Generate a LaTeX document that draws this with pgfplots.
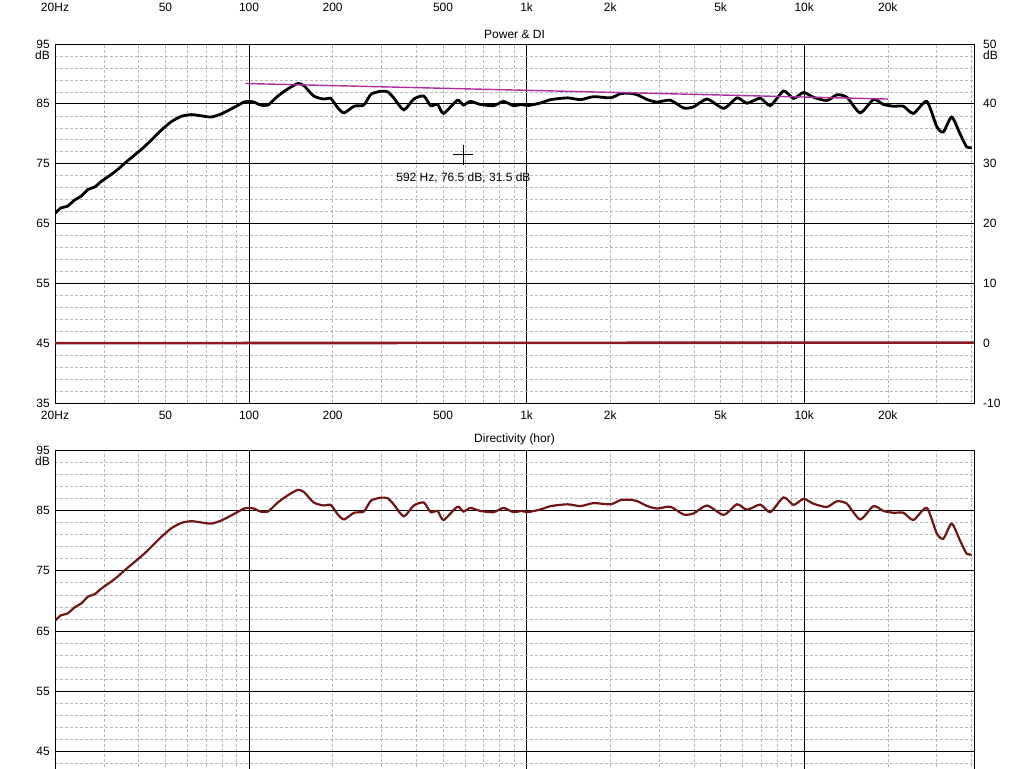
\documentclass[border=0pt]{standalone}
\usepackage{fontspec}
\setmainfont{Liberation Sans}
\usepackage{pgfplots}
\usepackage{pgfplotstable}
\pgfplotsset{compat=1.18}
\definecolor{curvered}{RGB}{112,22,22}
\definecolor{didark}{RGB}{140,25,35}
\definecolor{trendmag}{RGB}{175,45,160}

\pgfplotstableread{
f db
20 66.7
21.0 67.6
22.2 67.9
23.5 68.9
24.9 69.6
26.3 70.7
27.8 71.1
29.3 72.0
31.9 73.2
33.8 74.1
35.5 75.0
38.6 76.4
41.9 77.8
45.0 79.2
48.3 80.6
52.4 82.0
56.9 82.9
61.9 83.2
67.2 83.0
73.0 82.8
79.3 83.3
88.3 84.4
95.9 85.3
100 85.4
104 85.3
110 84.8
117 84.8
127 86.3
138 87.5
150 88.4
158 88.0
171 86.3
186 85.8
197 85.9
209 84.3
220 83.5
239 84.6
259 84.8
275 86.6
298 87.1
316 87.0
332 86.0
361 84.0
392 85.8
426 86.3
451 84.7
478 84.9
502 83.4
563 85.6
592 84.8
627 85.4
681 84.9
760 84.7
825 85.4
896 84.7
960 84.9
1008 84.7
1123 85.15
1220 85.7
1404 86.0
1564 85.7
1742 86.2
2005 86.0
2179 86.7
2367 86.75
2508 86.5
2724 85.7
2953 85.3
3296 85.6
3680 84.3
3999 84.5
4467 85.8
5126 84.25
5727 86.0
6222 85.1
6945 85.95
7547 84.7
8427 87.15
9153 85.9
9942 86.9
10802 86.1
12066 85.55
13115 86.5
14245 86.1
15903 83.5
17757 85.7
19290 84.9
20953 84.6
22763 84.6
24732 83.4
27634 85.4
30018 81.2
31703 80.3
33983 82.8
36410 80.0
38481 77.8
40108 77.7
}\powerdata

\newcommand{\lblfont}{\fontsize{12}{10}\selectfont}

\pgfplotsset{
  major grid style={black, line width=0.8pt},
  minor grid style={gray!55, line width=0.5pt, dash pattern=on 3pt off 2pt},
  every tick label/.append style={font=\lblfont},
  every axis title/.append style={font=\lblfont},
}

\begin{document}
\begin{tikzpicture}
\useasboundingbox (0pt,0pt) rectangle (1024pt,-768pt);
\clip (0pt,0pt) rectangle (1024pt,-768pt);

% remnant of the chart above
\begin{axis}[xmode=log, xmin=20, xmax=40900, ymin=35, ymax=95,
  width=919pt, height=300pt, scale only axis, at={(55pt,5pt)}, anchor=south west,
  xtick={100,1000,10000}, xticklabels={100,1k,10k},
  extra x ticks={20,50,200,500,2000,5000,20000},
  extra x tick labels={20Hz,50,200,500,2k,5k,20k},
  ytick={35}, yticklabels={35},
  major tick length=0pt, minor tick length=0pt,
  xticklabel style={inner sep=0pt, yshift=-8pt, anchor=north},
  yticklabel style={inner sep=0pt, xshift=-5pt, anchor=east}]
  \addplot[draw=none] coordinates {(100,50)};
\end{axis}

% Power & DI
\begin{axis}[xmode=log, xmin=20, xmax=40900, ymin=35, ymax=95,
  width=919pt, height=359pt, scale only axis, at={(55pt,-403pt)}, anchor=south west,
  clip mode=individual,
  title={Power \& DI},
  title style={at={(0.5,1)}, anchor=base, yshift=0pt},
  xtick={100,1000,10000}, xticklabels={100,1k,10k},
  extra x ticks={20,50,200,500,2000,5000,20000},
  extra x tick labels={20Hz,50,200,500,2k,5k,20k},
  extra x tick style={xmajorgrids=false},
  minor xtick={30,40,50,60,70,80,90,200,300,400,500,600,700,800,900,2000,3000,4000,5000,6000,7000,8000,9000,20000,30000,40000},
  xmajorgrids=true, xminorgrids=true, ymajorgrids=true, yminorgrids=true,
  ytick={35,45,55,65,75,85,95}, yticklabels={35,45,55,65,75,85,95},
  minor y tick num=4,
  major tick length=0pt, minor tick length=0pt,
  axis line style={black, line width=0.9pt},
  xticklabel style={inner sep=0pt, yshift=-8pt, anchor=north},
  yticklabel style={inner sep=0pt, xshift=-5pt, anchor=east}]
  \addplot[black, line width=2.8pt, smooth, tension=0.4] table[x=f,y=db]{\powerdata};
  \addplot[trendmag, line width=1.4pt] coordinates {(97,88.4) (20000,85.8)};
  \addplot[only marks, black, mark=+, mark size=10pt, mark options={line width=0.9pt}] coordinates {(592,76.5)};
  \node[font=\lblfont, inner sep=0pt, anchor=center, yshift=-23pt] at (axis cs:592,76.5) {592 Hz, 76.5 dB, 31.5 dB};
  \node[font=\lblfont, inner sep=0pt, anchor=north east, xshift=-5pt, yshift=-6.5pt] at (rel axis cs:0,1) {dB};
\end{axis}
\begin{axis}[xmode=log, xmin=20, xmax=40900, ymin=-10, ymax=50,
  width=919pt, height=359pt, scale only axis, at={(55pt,-403pt)}, anchor=south west,
  clip mode=individual,
  axis x line=none, axis y line*=right,
  axis line style={black, line width=0.9pt},
  ytick={-10,0,10,20,30,40,50}, yticklabels={-10,0,10,20,30,40,50},
  major tick length=0pt, minor tick length=0pt,
  yticklabel style={anchor=west, inner sep=0pt, xshift=9pt}]
  \addplot[didark, line width=2.6pt] coordinates {(20,0) (40900,0.1)};
  \node[font=\lblfont, inner sep=0pt, anchor=north west, xshift=9pt, yshift=-6.5pt] at (rel axis cs:1,1) {dB};
\end{axis}

% Directivity (hor)
\begin{axis}[xmode=log, xmin=20, xmax=40900, ymin=35, ymax=95,
  width=919pt, height=362pt, scale only axis, at={(55pt,-812pt)}, anchor=south west,
  clip mode=individual,
  title={Directivity (hor)},
  title style={at={(0.5,1)}, anchor=base, yshift=1.5pt},
  xtick={100,1000,10000}, xticklabels={100,1k,10k},
  extra x ticks={20,50,200,500,2000,5000,20000},
  extra x tick labels={20Hz,50,200,500,2k,5k,20k},
  extra x tick style={xmajorgrids=false},
  minor xtick={30,40,50,60,70,80,90,200,300,400,500,600,700,800,900,2000,3000,4000,5000,6000,7000,8000,9000,20000,30000,40000},
  xmajorgrids=true, xminorgrids=true, ymajorgrids=true, yminorgrids=true,
  ytick={35,45,55,65,75,85,95}, yticklabels={35,45,55,65,75,85,95},
  minor y tick num=4,
  major tick length=0pt, minor tick length=0pt,
  axis line style={black, line width=0.9pt},
  xticklabel style={inner sep=0pt, yshift=-8pt, anchor=north},
  yticklabel style={inner sep=0pt, xshift=-5pt, anchor=east}]
  \addplot[curvered, line width=2.2pt, smooth, tension=0.4] table[x=f,y=db]{\powerdata};
  \node[font=\lblfont, inner sep=0pt, anchor=north east, xshift=-5pt, yshift=-6.5pt] at (rel axis cs:0,1) {dB};
\end{axis}
\end{tikzpicture}
\end{document}
